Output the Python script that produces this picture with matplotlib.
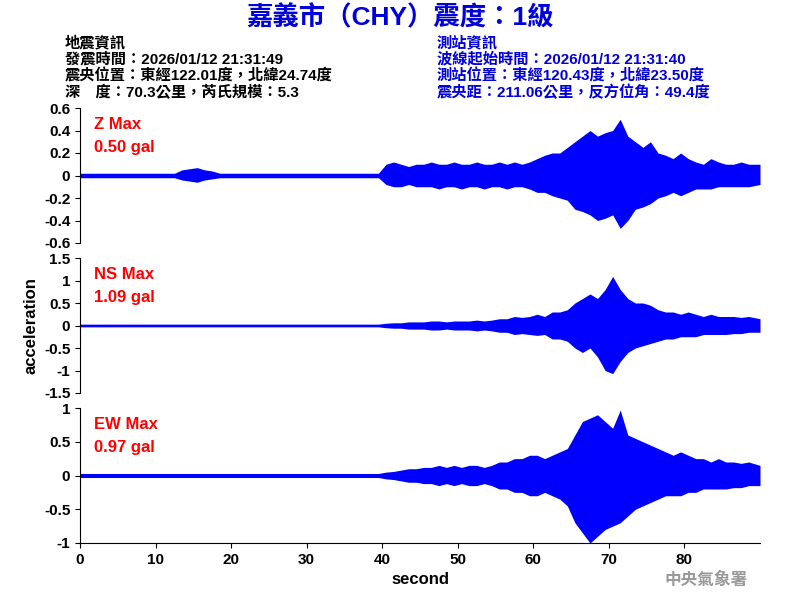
import matplotlib
matplotlib.use("Agg")
import matplotlib.pyplot as plt
import numpy as np

plt.rcParams['font.family'] = ['Liberation Sans', 'Noto Sans CJK TC', 'DejaVu Sans']

seconds = list(range(90))
# per-second envelope (max / min)
z_up = [0.02]*13 + [0.05,0.06,0.07,0.05,0.04] + [0.02]*22 + \
       [0.1,0.12,0.1,0.08,0.1] + [0.1,0.12,0.1,0.1,0.12,0.1,0.1,0.12,0.1,0.1,0.12,0.1,0.12,0.1,0.12] + \
       [0.15,0.18,0.2,0.2,0.25] + [0.3,0.35,0.4,0.35,0.38,0.4,0.5,0.35,0.3,0.25,0.3] + \
       [0.2,0.18,0.15,0.2,0.15,0.12,0.1,0.15,0.12,0.1,0.1,0.12,0.1,0.1]
z_dn = [-0.02]*13 + [-0.04,-0.05,-0.06,-0.04,-0.03] + [-0.02]*22 + \
       [-0.08,-0.1,-0.1,-0.08,-0.1] + [-0.1,-0.1,-0.12,-0.1,-0.1,-0.12,-0.1,-0.1,-0.12,-0.1,-0.1,-0.12,-0.1,-0.1,-0.12] + \
       [-0.15,-0.15,-0.18,-0.2,-0.22] + [-0.3,-0.32,-0.35,-0.4,-0.38,-0.35,-0.47,-0.4,-0.3,-0.28,-0.25] + \
       [-0.2,-0.18,-0.15,-0.18,-0.15,-0.12,-0.12,-0.12,-0.1,-0.1,-0.1,-0.1,-0.1,-0.08]
ns_up = [0.03]*40 + [0.05,0.06,0.06,0.08,0.08,0.08,0.1,0.1,0.08,0.1,0.1,0.1,0.12,0.1,0.12] + \
        [0.15,0.15,0.2,0.18,0.2,0.25,0.2,0.3,0.3,0.35] + \
        [0.5,0.6,0.7,0.6,0.8,1.09,0.8,0.6,0.5,0.5,0.45] + \
        [0.35,0.3,0.3,0.25,0.3,0.25,0.2,0.25,0.2,0.2,0.2,0.18,0.2,0.15]
ns_dn = [-0.03]*40 + [-0.05,-0.06,-0.06,-0.08,-0.08,-0.08,-0.1,-0.1,-0.08,-0.1,-0.1,-0.1,-0.12,-0.1,-0.12] + \
        [-0.15,-0.15,-0.2,-0.18,-0.2,-0.22,-0.2,-0.3,-0.3,-0.35] + \
        [-0.5,-0.6,-0.5,-0.7,-1.0,-1.07,-0.8,-0.6,-0.5,-0.45,-0.4] + \
        [-0.35,-0.3,-0.3,-0.25,-0.25,-0.25,-0.2,-0.2,-0.2,-0.2,-0.18,-0.18,-0.15,-0.15]
ew_up = [0.03]*40 + [0.05,0.06,0.08,0.1,0.1,0.12,0.12,0.15,0.12,0.15,0.12,0.15,0.15,0.12,0.15] + \
        [0.2,0.2,0.25,0.25,0.3,0.3,0.25,0.3,0.35,0.4] + \
        [0.6,0.8,0.85,0.9,0.8,0.7,0.97,0.6,0.55,0.5,0.45] + \
        [0.4,0.35,0.3,0.35,0.3,0.25,0.25,0.2,0.25,0.2,0.2,0.18,0.2,0.15]
ew_dn = [-0.03]*40 + [-0.05,-0.06,-0.08,-0.1,-0.1,-0.12,-0.12,-0.15,-0.12,-0.15,-0.12,-0.15,-0.15,-0.12,-0.15] + \
        [-0.2,-0.2,-0.25,-0.25,-0.3,-0.3,-0.25,-0.3,-0.35,-0.45] + \
        [-0.7,-0.85,-1.0,-0.9,-0.8,-0.75,-0.7,-0.6,-0.5,-0.45,-0.4] + \
        [-0.35,-0.3,-0.3,-0.3,-0.25,-0.25,-0.2,-0.2,-0.2,-0.2,-0.18,-0.18,-0.15,-0.15]

panels = [
    ("Z Max", "0.50 gal", z_up, z_dn, (-0.6, 0.6), [0.6,0.4,0.2,0,-0.2,-0.4,-0.6], ["0.6","0.4","0.2","0","-0.2","-0.4","-0.6"]),
    ("NS Max", "1.09 gal", ns_up, ns_dn, (-1.5, 1.5), [1.5,1,0.5,0,-0.5,-1,-1.5], ["1.5","1","0.5","0","-0.5","-1","-1.5"]),
    ("EW Max", "0.97 gal", ew_up, ew_dn, (-1, 1), [1,0.5,0,-0.5,-1], ["1","0.5","0","-0.5","-1"]),
]

fig = plt.figure(figsize=(8, 6), dpi=100)
W, H = 800, 600
tops = [108, 258, 408]
for i, (name, val, up, dn, yl, yt, ytl) in enumerate(panels):
    ax = fig.add_axes([80/W, 1-(tops[i]+135)/H, 680/W, 135/H])
    t = np.array(seconds, dtype=float) + 0.5
    t[0] = 0.0
    t[-1] = 90.0
    ax.fill_between(t, up, dn, color='blue', lw=0)
    ax.set_xlim(0, 90)
    ax.set_ylim(*yl)
    ax.set_yticks(yt)
    ax.set_yticklabels(ytl, fontsize=11, fontweight='bold')
    for s in ['top', 'right']:
        ax.spines[s].set_visible(False)
    if i < 2:
        ax.spines['bottom'].set_visible(False)
        ax.set_xticks([])
    else:
        ax.set_xticks(range(0, 90, 10))
        ax.tick_params(axis='x', labelsize=11)
        for lb in ax.get_xticklabels():
            lb.set_fontweight('bold')
        ax.set_xlabel("second", fontsize=12, fontweight='bold')
    if i == 1:
        ax.set_ylabel("acceleration", fontsize=12, fontweight='bold')
    ax.text(0.02, 0.93, name, transform=ax.transAxes, color='red', fontsize=12, fontweight='bold', va='top')
    ax.text(0.02, 0.76, val, transform=ax.transAxes, color='red', fontsize=12, fontweight='bold', va='top')

fig.text(400/W, 1-18/H, "嘉義市（CHY）震度：1級", color='#0000dd', fontsize=19, fontweight='bold', ha='center', va='center')
left = ["地震資訊", "發震時間：2026/01/12 21:31:49", "震央位置：東經122.01度，北緯24.74度", "深　度：70.3公里，芮氏規模：5.3"]
right = ["測站資訊", "波線起始時間：2026/01/12 21:31:40", "測站位置：東經120.43度，北緯23.50度", "震央距：211.06公里，反方位角：49.4度"]
for k, (a, b) in enumerate(zip(left, right)):
    y = 1 - (43 + k*16.5)/H
    fig.text(65/W, y, a, fontsize=11, color='black', va='center', fontweight='bold')
    fig.text(437/W, y, b, fontsize=11, color='#0000dd', va='center', fontweight='bold')
fig.text(748/W, 1-580/H, "中央氣象署", fontsize=12, color='#999999', ha='right', va='center', fontweight='bold')
fig.savefig("out.png", dpi=100)
